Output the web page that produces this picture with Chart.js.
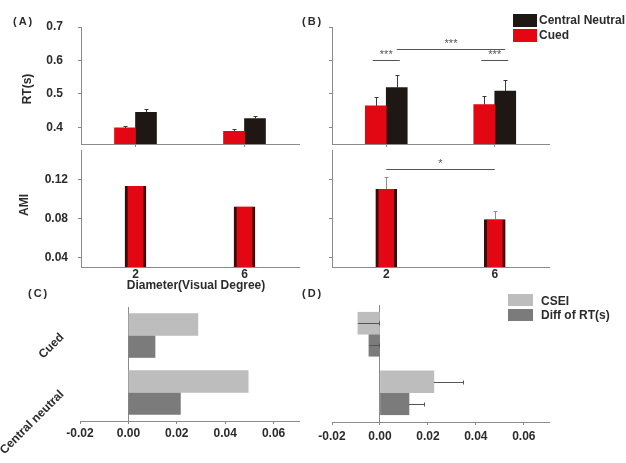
<!DOCTYPE html>
<html><head><meta charset="utf-8">
<script src="https://cdn.jsdelivr.net/npm/chart.js@4.4.0/dist/chart.umd.min.js"></script>
<style>
html,body{margin:0;padding:0;background:#fff;}
#wrap{position:relative;width:626px;height:463px;overflow:hidden;font-family:"Liberation Sans",Arial,sans-serif;font-weight:bold;color:#2b2b2b;}
canvas.c{position:absolute;left:0;top:0;}
.t{position:absolute;white-space:nowrap;font-size:12px;line-height:12px;}
.ctr{transform:translate(-50%,-50%);}
.rot{transform:translate(-50%,-50%) rotate(-90deg);}
.pl{font-size:11px;letter-spacing:2px;}
.box{position:absolute;}
</style></head><body>
<div id="wrap">
<canvas class="c" id="cArt" width="626" height="463"></canvas>
<canvas class="c" id="cBrt" width="626" height="463"></canvas>
<canvas class="c" id="cAami" width="626" height="463"></canvas>
<canvas class="c" id="cBami" width="626" height="463"></canvas>
<canvas class="c" id="cC" width="626" height="463"></canvas>
<canvas class="c" id="cD" width="626" height="463"></canvas>

<div class="t pl" style="left:13px;top:15px;">(A)</div>
<div class="t pl" style="left:302px;top:15px;">(B)</div>
<div class="t pl" style="left:28px;top:287px;">(C)</div>
<div class="t pl" style="left:302px;top:287px;">(D)</div>

<div class="t rot" style="left:27px;top:89px;">RT(s)</div>
<div class="t rot" style="left:24px;top:205px;">AMI</div>
<div class="t ctr" style="left:196px;top:285px;">Diameter(Visual Degree)</div>

<div class="box" style="left:513px;top:14px;width:24px;height:13px;background:#1f1714;"></div>
<div class="box" style="left:513px;top:29px;width:24px;height:13px;background:#e30613;"></div>
<div class="t" style="left:539px;top:14px;">Central Neutral</div>
<div class="t" style="left:539px;top:29px;">Cued</div>

<div class="box" style="left:508px;top:294px;width:25px;height:12px;background:#bdbdbd;"></div>
<div class="box" style="left:508px;top:309px;width:25px;height:12px;background:#7b7b7b;"></div>
<div class="t" style="left:541px;top:295px;">CSEI</div>
<div class="t" style="left:541px;top:309px;">Diff of RT(s)</div>
</div>
<script>
// ---------- data ----------
const diameters = ['2', '6'];
const rtCuedA = [0.398, 0.388];
const rtNeutralA = [0.445, 0.426];
const rtCuedErrA = [0.007, 0.008];
const rtNeutralErrA = [0.011, 0.008];
const rtCuedB = [0.464, 0.468];
const rtNeutralB = [0.519, 0.508];
const rtCuedErrB = [0.026, 0.027];
const rtNeutralErrB = [0.036, 0.032];
const amiA = [0.113, 0.092];
const amiB = [0.110, 0.079];
const amiErrB = [0.0125, 0.0087];
const cueConds = ['Cued', 'Central neutral'];
const cseiC = [0.0287, 0.0495];
const diffRtC = [0.011, 0.0215];
const cseiD = [-0.0092, 0.0225];
const diffRtD = [-0.0046, 0.0121];
const cseiErrD = [0.0088, 0.0121];
const diffRtErrD = [0.0044, 0.0062];
const rtTicks = [0.4, 0.5, 0.6, 0.7];
const amiTicks = [0.04, 0.08, 0.12];
const effTicks = [-0.02, 0, 0.02, 0.04, 0.06];
const sigRtB = [
  {from: [0, 0], to: [1, 0], y: 0.6, label: '***', ext: 3},
  {from: [1, 0], to: [1, 1], y: 0.633, label: '***', ext: 0},
  {from: [0, 1], to: [1, 1], y: 0.6, label: '***', ext: 3}
];
const sigAmiB = [{from: [0, 0], to: [0, 1], y: 0.131, label: '*', ext: 0}];

// ---------- style ----------
const RED = '#e30613', BLACK = '#1f1714', LG = '#bdbdbd', DG = '#7b7b7b', AX = '#8a8a8a';
const W = 626, H = 463;
Chart.defaults.font.family = '"Liberation Sans", Arial, Helvetica, sans-serif';
Chart.defaults.font.weight = 'bold';
Chart.defaults.font.size = 12;
Chart.defaults.color = '#2b2b2b';

const errorBarPlugin = {
  id: 'errBars',
  afterDatasetsDraw(chart, args, opts) {
    if (!opts.errors) return;
    const c = chart.ctx;
    const horiz = chart.options.indexAxis === 'y';
    const vScale = horiz ? chart.scales.x : chart.scales.y;
    const cap = opts.cap || 2;
    c.save();
    c.strokeStyle = opts.color || '#444';
    c.lineWidth = 1;
    chart.data.datasets.forEach((ds, i) => {
      const errs = opts.errors[i];
      if (!errs) return;
      chart.getDatasetMeta(i).data.forEach((bar, j) => {
        const p0 = vScale.getPixelForValue(ds.data[j]);
        const p1 = Math.round(vScale.getPixelForValue(ds.data[j] + errs[j])) + 0.5;
        c.beginPath();
        if (horiz) {
          const y = Math.round(bar.y) + 0.5;
          c.moveTo(p0, y); c.lineTo(p1, y);
          c.moveTo(p1, y - cap); c.lineTo(p1, y + cap);
        } else {
          const x = Math.round(bar.x) + 0.5;
          c.moveTo(x, p0); c.lineTo(x, p1);
          c.moveTo(x - cap, p1); c.lineTo(x + cap, p1);
        }
        c.stroke();
      });
    });
    c.restore();
  }
};

const sigPlugin = {
  id: 'sig',
  afterDatasetsDraw(chart, args, opts) {
    const marks = opts.marks;
    if (!marks) return;
    const c = chart.ctx, yS = chart.scales.y;
    c.save();
    c.strokeStyle = '#555'; c.fillStyle = '#555'; c.lineWidth = 1;
    c.font = 'normal 11px "Liberation Sans", Arial, sans-serif';
    c.textAlign = 'center'; c.textBaseline = 'alphabetic';
    marks.forEach(m => {
      const a = chart.getDatasetMeta(m.from[0]).data[m.from[1]];
      const b = chart.getDatasetMeta(m.to[0]).data[m.to[1]];
      const y = Math.round(yS.getPixelForValue(m.y)) + 0.5;
      c.beginPath();
      c.moveTo(a.x - m.ext, y); c.lineTo(b.x + m.ext, y);
      c.stroke();
      c.fillText(m.label, (a.x + b.x) / 2, y - 3);
    });
    c.restore();
  }
};
Chart.register(errorBarPlugin, sigPlugin);

function fixW(w) { return s => { s.width = w; s.paddingTop = 0; s.paddingBottom = 0; s.paddingLeft = 0; s.paddingRight = 0; }; }
function fixH(h) { return s => { s.height = h; s.paddingTop = 0; s.paddingBottom = 0; s.paddingLeft = 0; s.paddingRight = 0; }; }
function pad(l, t, r, b, yw, xh) { return {left: l - yw, top: t, right: W - r, bottom: H - b - xh}; }
function setTicks(arr) { return s => { s.ticks = arr.map(v => ({value: v})); }; }

function base(padding, plugins) {
  return {
    responsive: false, animation: false, devicePixelRatio: 1, events: [],
    layout: {padding},
    plugins: Object.assign({legend: {display: false}, tooltip: {enabled: false}}, plugins)
  };
}

function rtChart(id, left, right, cued, neutral, cuedErr, neutralErr, showLabels, sig) {
  const yw = showLabels ? 81 : 10;
  const opts = base(pad(left, 27, right, 144, yw, 10), {
    errBars: {errors: [cuedErr, neutralErr], color: '#3a3a3a', cap: 2},
    sig: {marks: sig}
  });
  opts.scales = {
    x: {
      grid: {drawOnChartArea: false, offset: false, tickLength: 3, color: AX},
      border: {color: AX}, ticks: {display: false}, afterFit: fixH(10)
    },
    y: {
      min: 0.35, max: 0.7, afterBuildTicks: setTicks(rtTicks),
      ticks: {display: showLabels, callback: v => v.toFixed(1), padding: 15},
      grid: {drawOnChartArea: false, tickLength: 3, color: AX},
      border: {color: AX}, afterFit: fixW(yw)
    }
  };
  return new Chart(document.getElementById(id), {
    type: 'bar',
    data: {labels: diameters, datasets: [
      {label: 'Cued', data: cued, backgroundColor: RED, barThickness: 21, clip: 0},
      {label: 'Central Neutral', data: neutral, backgroundColor: BLACK, barThickness: 21, clip: 0}
    ]},
    options: opts
  });
}

function amiChart(id, left, right, vals, errs, showLabels, sig) {
  const yw = showLabels ? 81 : 10;
  const opts = base(pad(left, 150, right, 267, yw, 16), {
    errBars: {errors: errs ? [errs] : null, color: '#9a8a8a', cap: 0},
    sig: {marks: sig}
  });
  opts.scales = {
    x: {
      grid: {drawOnChartArea: false, drawTicks: false, offset: false, color: AX},
      border: {color: AX}, ticks: {padding: 0}, afterFit: fixH(16)
    },
    y: {
      min: 0.03, max: 0.15, afterBuildTicks: setTicks(amiTicks),
      ticks: {display: showLabels, callback: v => v.toFixed(2), padding: 10},
      grid: {drawOnChartArea: false, tickLength: 3, color: AX},
      border: {color: AX}, afterFit: fixW(yw)
    }
  };
  return new Chart(document.getElementById(id), {
    type: 'bar',
    data: {labels: diameters, datasets: [
      {label: 'AMI', data: vals, backgroundColor: RED, borderColor: '#3a0b0b',
       borderWidth: {left: 3, right: 3, top: 0, bottom: 0}, borderSkipped: false, barThickness: 21, clip: 0}
    ]},
    options: opts
  });
}

function effChart(id, left, top, right, bottom, csei, diff, cseiErr, diffErr, showLabels, tickPad) {
  const yw = showLabels ? 80 : 0;
  const opts = base(pad(left, top, right, bottom, yw, 22), {
    errBars: {errors: cseiErr ? [cseiErr, diffErr] : null, color: '#555', cap: 2}
  });
  opts.indexAxis = 'y';
  opts.scales = {
    x: {
      min: -0.02, max: 0.0705, afterBuildTicks: setTicks(effTicks),
      ticks: {callback: v => v.toFixed(2), padding: tickPad},
      grid: {drawOnChartArea: true, tickLength: 3, tickColor: AX,
             color: ctx => (ctx.tick && Math.abs(ctx.tick.value) < 1e-9) ? AX : 'rgba(0,0,0,0)'},
      border: {color: AX}, afterFit: fixH(22)
    },
    y: {
      ticks: {display: showLabels, minRotation: 45, maxRotation: 45, padding: 10},
      grid: {display: false}, border: {display: false}, afterFit: fixW(yw)
    }
  };
  return new Chart(document.getElementById(id), {
    type: 'bar',
    data: {labels: cueConds, datasets: [
      {label: 'CSEI', data: csei, backgroundColor: LG, barThickness: 22, clip: 0},
      {label: 'Diff of RT(s)', data: diff, backgroundColor: DG, barThickness: 22, clip: 0}
    ]},
    options: opts
  });
}

rtChart('cArt', 81, 299, rtCuedA, rtNeutralA, rtCuedErrA, rtNeutralErrA, true, null);
rtChart('cBrt', 332, 549, rtCuedB, rtNeutralB, rtCuedErrB, rtNeutralErrB, false, sigRtB);
amiChart('cAami', 81, 299, amiA, null, true, null);
amiChart('cBami', 332, 549, amiB, amiErrB, false, sigAmiB);
effChart('cC', 80, 307, 299, 421, cseiC, diffRtC, null, null, true, 2);
effChart('cD', 332, 305, 549, 422, cseiD, diffRtD, cseiErrD, diffRtErrD, false, 4);
</script>
</body></html>
